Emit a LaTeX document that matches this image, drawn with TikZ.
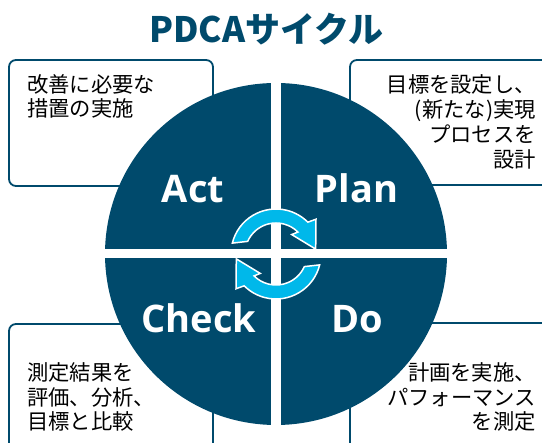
\documentclass[tikz,border=0pt]{standalone}
\usepackage{fontspec}
\setmainfont{Open Sans}
\newfontfamily\jp{Noto Sans CJK JP}
\definecolor{dkblue}{RGB}{0,74,108}
\definecolor{cyanarr}{RGB}{0,184,234}
\begin{document}
\begin{tikzpicture}[x=1pt,y=1pt,
  box/.style={draw=dkblue, line width=1.8pt, rounded corners=7pt, fill=white},
  phase/.style={font=\fontsize{38}{38}\selectfont\bfseries, text=white, inner sep=0pt, anchor=base},
  jline/.style={font=\jp\fontsize{21.3}{21.3}\selectfont, text=black, inner sep=0pt},
  arr/.style={fill=cyanarr, draw=white, line width=1.5pt, line join=miter}]
\useasboundingbox (0,0) rectangle (542,443);
\clip (0,0) rectangle (542,443);
% boxes
\draw[box] (9,257) rectangle (213,383);
\draw[box] (350,258) rectangle (570,383);
\draw[box] (9,-30) rectangle (213,119);
\draw[box] (350,-30) rectangle (570,120);
% box texts
\node[jline, anchor=base west] (tl1) at (27,350) {改善に必要な};
\node[jline, anchor=base west] (tl2) at (27,326) {措置の実施};
\node[jline, anchor=base east] (tr1) at (536,350) {目標を設定し、};
\node[jline, anchor=base east] (tr2) at (536,325) {(新たな)実現};
\node[jline, anchor=base east] (tr3) at (536,300) {プロセスを};
\node[jline, anchor=base east] (tr4) at (536,275) {設計};
\node[jline, anchor=base west] (bl1) at (27,62) {測定結果を};
\node[jline, anchor=base west] (bl2) at (27,37.5) {評価、分析、};
\node[jline, anchor=base west] (bl3) at (27,13) {目標と比較};
\node[jline, anchor=base east] (br1) at (536,62) {計画を実施、};
\node[jline, anchor=base east] (br2) at (536,37.5) {パフォーマンス};
\node[jline, anchor=base east] (br3) at (536,13) {を測定};
% circle
\fill[dkblue] (276,189) circle[radius=171pt];
\fill[white] (271,10) rectangle (281,368);
\fill[white] (100,185) rectangle (452,193.5);
% phase labels
\node[phase] (act) at (193,240) {Act};
\node[phase] (plan) at (356.5,240) {Plan};
\node[phase] (check) at (199,110) {Check};
\node[phase] (do) at (357,110) {Do};
% arrows
\begin{scope}[shift={(276,189)}]
\path[arr] (166:45pt) arc[start angle=166, end angle=45, radius=45pt] -- (41:53pt) -- (7:40pt) -- (51:25pt) -- (45:31pt) arc[start angle=45, end angle=156, radius=31pt] -- cycle;
\path[arr] (346:45pt) arc[start angle=346, end angle=225, radius=45pt] -- (221:53pt) -- (187:40pt) -- (231:25pt) -- (225:31pt) arc[start angle=225, end angle=336, radius=31pt] -- cycle;
\end{scope}
% title
\node[font=\jp\bfseries\fontsize{35}{35}\selectfont, text=dkblue, anchor=base, inner sep=0pt] (title) at (266.5,400) {PDCAサイクル};
\end{tikzpicture}
\end{document}
